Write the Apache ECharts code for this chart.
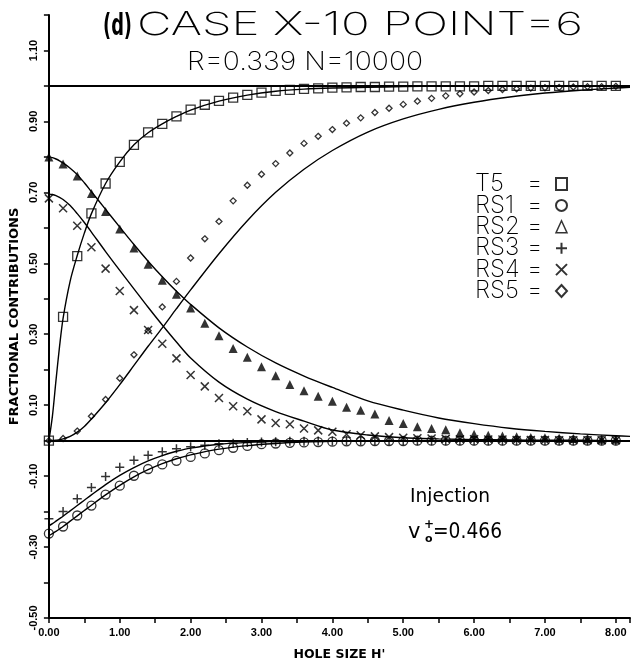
<!DOCTYPE html>
<html><head><meta charset="utf-8">
<script src="https://cdn.jsdelivr.net/npm/echarts@6/dist/echarts.min.js"></script>
<style>html,body{margin:0;padding:0;background:#fff}#c{width:633px;height:666px}</style>
</head><body><div id="c"></div><script>
// ---- data ----
const xPts = [0,0.2,0.4,0.6,0.8,1.0,1.2,1.4,1.6,1.8,2.0,2.2,2.4,2.6,2.8,3.0,3.2,3.4,3.6,3.8,4.0,4.2,4.4,4.6,4.8,5.0,5.2,5.4,5.6,5.8,6.0,6.2,6.4,6.6,6.8,7.0,7.2,7.4,7.6,7.8,8.0];
const t5Pts  = [0,0.349,0.520,0.641,0.725,0.786,0.834,0.869,0.893,0.914,0.933,0.947,0.958,0.967,0.975,0.981,0.986,0.989,0.992,0.993,0.995,0.996,0.997,0.997,0.998,0.998,0.999,0.999,0.999,0.999,0.999,1.0,1.0,1.0,1.0,1.0,1.0,1.0,1.0,1.0,1.0];
const rs1Pts = [-0.262,-0.242,-0.211,-0.183,-0.152,-0.127,-0.099,-0.080,-0.067,-0.057,-0.046,-0.036,-0.027,-0.020,-0.015,-0.010,-0.008,-0.006,-0.005,-0.004,-0.003,-0.002,-0.002,-0.001,-0.001,-0.001,0,0,0,0,0,0,0,0,0,0,0,0,0,0,0];
const rs2Pts = [0.800,0.780,0.746,0.697,0.646,0.597,0.543,0.497,0.452,0.413,0.374,0.331,0.296,0.260,0.235,0.208,0.183,0.158,0.141,0.125,0.111,0.094,0.086,0.075,0.057,0.048,0.039,0.034,0.031,0.022,0.018,0.015,0.013,0.011,0.009,0.008,0.007,0.006,0.005,0.004,0.004];
const rs3Pts = [-0.220,-0.200,-0.164,-0.132,-0.101,-0.075,-0.055,-0.041,-0.031,-0.023,-0.017,-0.013,-0.009,-0.007,-0.005,-0.004,-0.003,-0.002,-0.002,-0.001,-0.001,0,0,0,0,0,0,0,0,0,0,0,0,0,0,0,0,0,0,0,0];
const rs4Pts = [0.683,0.655,0.606,0.545,0.485,0.422,0.368,0.312,0.273,0.232,0.185,0.153,0.120,0.097,0.083,0.060,0.050,0.046,0.034,0.029,0.025,0.018,0.015,0.012,0.010,0.008,0.007,0.006,0.005,0.004,0.004,0.003,0.003,0.002,0.002,0.002,0.001,0.001,0.001,0.001,0.001];
const rs5Pts = [0,0.006,0.027,0.069,0.116,0.176,0.242,0.310,0.377,0.449,0.515,0.569,0.618,0.676,0.720,0.751,0.781,0.811,0.838,0.858,0.877,0.895,0.910,0.925,0.937,0.948,0.957,0.965,0.972,0.978,0.983,0.987,0.990,0.992,0.994,0.995,0.996,0.997,0.998,0.998,0.999];

const xFit  = [0,0.05,0.1,0.15,0.2,0.3,0.4,0.5,0.6,0.8,1.0,1.2,1.4,1.6,1.8,2.0,2.4,2.8,3.2,3.6,4.0,4.5,5.0,5.5,6.0,6.5,7.0,7.5,8.0,8.2];
const t5Fit  = [0,0.07,0.17,0.265,0.345,0.45,0.522,0.585,0.64,0.725,0.786,0.834,0.868,0.893,0.914,0.932,0.957,0.974,0.985,0.991,0.994,0.996,0.998,0.999,0.999,1,1,1,1,1];
const rs1Fit = [-0.268,-0.262,-0.256,-0.249,-0.242,-0.227,-0.212,-0.197,-0.182,-0.153,-0.126,-0.102,-0.082,-0.065,-0.051,-0.040,-0.024,-0.014,-0.008,-0.004,-0.002,-0.001,0,0,0,0,0,0,0,0];
const rs2Fit = [0.800,0.798,0.794,0.789,0.783,0.768,0.750,0.727,0.702,0.652,0.602,0.553,0.506,0.462,0.421,0.384,0.318,0.264,0.219,0.182,0.150,0.112,0.086,0.064,0.048,0.035,0.026,0.019,0.014,0.012];
const rs3Fit = [-0.240,-0.234,-0.227,-0.220,-0.213,-0.198,-0.183,-0.168,-0.153,-0.124,-0.098,-0.076,-0.057,-0.042,-0.030,-0.021,-0.010,-0.005,-0.002,-0.001,0,0,0,0,0,0,0,0,0,0];
const rs4Fit = [0.695,0.694,0.691,0.686,0.680,0.663,0.640,0.615,0.588,0.533,0.480,0.428,0.376,0.326,0.278,0.233,0.165,0.117,0.082,0.055,0.030,0.016,0.008,0.005,0.003,0.002,0.001,0.001,0,0];
const rs5Fit = [0,0.0005,0.001,0.003,0.005,0.012,0.024,0.040,0.061,0.107,0.158,0.212,0.266,0.318,0.372,0.425,0.527,0.620,0.700,0.765,0.818,0.870,0.907,0.934,0.954,0.969,0.980,0.988,0.994,0.996];

const refLines = [1.0, 0.0];
const seriesNames = ['T5','RS1','RS2','RS3','RS4','RS5'];

// ---- helpers ----
const pair = (xs, ys) => xs.map((x, i) => [x, ys[i]]);
const measureCtx = document.createElement('canvas').getContext('2d');
function fitText(text, x0, x1, yMid, size, family, weight) {
  const font = weight + ' ' + size + 'px ' + family;
  measureCtx.font = font;
  const w = measureCtx.measureText(text).width;
  return { type: 'text', x: x0, y: yMid, scaleX: (x1 - x0) / w, silent: true,
    style: { text: text, fontSize: size, fontFamily: family, fontWeight: weight, fill: '#000', align: 'left', verticalAlign: 'middle' } };
}
function plainText(text, x, yMid, size, family, weight) {
  return { type: 'text', x: x, y: yMid, silent: true,
    style: { text: text, fontSize: size, fontFamily: family, fontWeight: weight, fill: '#000', align: 'left', verticalAlign: 'middle' } };
}

const openStyle = { color: 'transparent', borderColor: '#000', borderWidth: 1.3 };
const strokeStyle = { color: 'transparent', borderColor: '#000', borderWidth: 1.5 };
const PLUS = 'path://M5,0L5,10M0,5L10,5';
const CROSS = 'path://M0,0L10,10M10,0L0,10';

function fitLine(data, extra) {
  return Object.assign({ type: 'line', data: data, smooth: 0.3, showSymbol: false, symbol: 'none',
    lineStyle: { color: '#000', width: 1.4 }, silent: true, z: 2, animation: false }, extra || {});
}
function pts(name, data, symbol, size, style) {
  return { name: name, type: 'scatter', data: data, symbol: symbol, symbolSize: size, itemStyle: style, silent: true, z: 3, animation: false };
}

const chart = echarts.init(document.getElementById('c'), null, { renderer: 'canvas' });
const tickFont = { fontFamily: 'Liberation Sans', fontWeight: 'bold', fontSize: 11, color: '#000' };
const legendRich = { width: 52, align: 'left', fontFamily: 'Inter', fontWeight: 200, fontSize: 24, lineHeight: 21, color: '#000' };

chart.setOption({
  backgroundColor: '#fff',
  animation: false,
  grid: { left: 46, top: 15, width: 588, height: 607, containLabel: false },
  xAxis: {
    type: 'value', min: 0, max: 8.2, interval: 0.5,
    name: "HOLE SIZE H'", nameLocation: 'middle', nameGap: 30,
    nameTextStyle: { fontFamily: 'DejaVu Sans', fontWeight: 'bold', fontSize: 12.5, color: '#000' },
    axisLine: { show: true, onZero: false, lineStyle: { color: '#000', width: 2 } },
    axisTick: { show: true, inside: false, length: 5, lineStyle: { color: '#000', width: 1.5 } },
    axisLabel: Object.assign({ margin: 9, formatter: v => (Math.abs(v - Math.round(v)) < 1e-6 && v <= 8.001) ? v.toFixed(2) : '' }, tickFont),
    splitLine: { show: false }
  },
  yAxis: {
    type: 'value', min: -0.5, max: 1.2, interval: 0.1,
    name: 'FRACTIONAL CONTRIBUTIONS', nameLocation: 'middle', nameGap: 23, nameRotate: 90,
    nameTextStyle: { fontFamily: 'DejaVu Sans', fontWeight: 'bold', fontSize: 13, color: '#000' },
    axisLine: { show: true, onZero: false, lineStyle: { color: '#000', width: 2 } },
    axisTick: { show: true, inside: false, length: 5, lineStyle: { color: '#000', width: 1.5 } },
    axisLabel: Object.assign({ margin: 9, rotate: 90, formatter: v => { const k = Math.round(v * 10); return (Math.abs(k) % 2 === 1) ? v.toFixed(2) : ''; } }, tickFont),
    splitLine: { show: false }
  },
  legend: {
    orient: 'vertical', left: 475, top: 172, align: 'right', padding: 0,
    itemWidth: 11, itemHeight: 12, itemGap: -2.6, selectedMode: false,
    formatter: name => '{n|' + name + '}{e|=}',
    textStyle: { color: '#000', fontFamily: 'Inter', fontWeight: 200, fontSize: 24, lineHeight: 21,
      rich: { n: legendRich, e: Object.assign({}, legendRich, { width: 24 }) } },
    data: [
      { name: 'T5', icon: 'rect' },
      { name: 'RS1', icon: 'circle' },
      { name: 'RS2', icon: 'triangle', itemStyle: { color: 'transparent', borderColor: '#000', borderWidth: 1.5 } },
      { name: 'RS3', icon: PLUS },
      { name: 'RS4', icon: CROSS },
      { name: 'RS5', icon: 'diamond' }
    ]
  },
  series: [
    fitLine(pair(xFit, t5Fit), { markLine: { silent: true, symbol: ['none', 'none'], label: { show: false },
      lineStyle: { color: '#000', width: 2, type: 'solid' }, data: refLines.map(v => ({ yAxis: v })) } }),
    fitLine(pair(xFit, rs1Fit)),
    fitLine(pair(xFit, rs2Fit)),
    fitLine(pair(xFit, rs3Fit)),
    fitLine(pair(xFit, rs4Fit)),
    fitLine(pair(xFit, rs5Fit)),
    pts(seriesNames[0], pair(xPts, t5Pts), 'rect', 9, openStyle),
    pts(seriesNames[1], pair(xPts, rs1Pts), 'circle', 9, openStyle),
    pts(seriesNames[2], pair(xPts, rs2Pts), 'triangle', 9, { color: '#000' }),
    pts(seriesNames[3], pair(xPts, rs3Pts), PLUS, 9, strokeStyle),
    pts(seriesNames[4], pair(xPts, rs4Pts), CROSS, 8, strokeStyle),
    pts(seriesNames[5], pair(xPts, rs5Pts), 'diamond', 6, openStyle)
  ],
  graphic: [
    fitText('(d)', 103, 132, 27, 31, 'DejaVu Sans', 'bold'),
    fitText('CASE X-10 POINT=6', 137, 583, 25, 32, 'Inter', 200),
    fitText('R=0.339 N=10000', 187, 423, 62, 26, 'Inter', 200),
    fitText('Injection', 410, 490, 497, 19, 'DejaVu Sans', 'normal'),
    plainText('v', 408, 533, 21, 'DejaVu Sans', 'normal'),
    plainText('+', 424, 525, 12, 'DejaVu Sans', 'bold'),
    plainText('o', 425, 539, 11, 'DejaVu Sans', 'bold'),
    fitText('=0.466', 433, 502, 533, 21, 'DejaVu Sans', 'normal')
  ]
});
</script></body></html>
